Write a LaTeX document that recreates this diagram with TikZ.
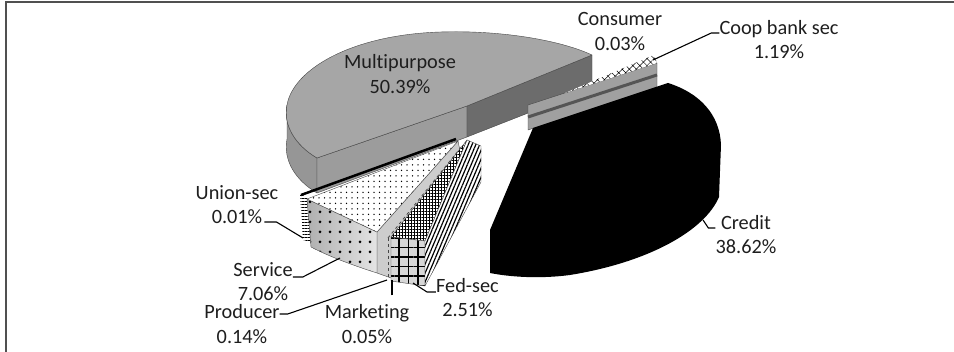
\documentclass[tikz,border=0pt]{standalone}
\usepackage{fontspec}
\setmainfont{Carlito}[Ligatures=NoCommon]
\usetikzlibrary{patterns.meta}
\definecolor{frameColor}{RGB}{80,80,80}
\definecolor{edgeColor}{RGB}{70,70,70}
\definecolor{textColor}{RGB}{30,30,30}
\definecolor{multiTop}{RGB}{166,166,166}
\definecolor{multiFront}{RGB}{156,156,156}
\definecolor{multiSide}{RGB}{150,150,150}
\definecolor{multiDark}{RGB}{108,108,108}
\definecolor{coopSide}{RGB}{160,160,160}
\definecolor{coopStripe}{RGB}{85,85,85}
\definecolor{serviceCut}{RGB}{205,205,205}
\definecolor{serviceSideL}{RGB}{175,175,175}
\definecolor{serviceSideR}{RGB}{228,228,228}
\definecolor{fedSide}{RGB}{215,215,215}
\tikzstyle{chart} = [x = 1pt, y = -1pt]
\tikzstyle{frameLine} = [color=frameColor, line width=2pt]
\tikzstyle{sliceEdge} = [draw=edgeColor, line width=0.4pt, line join=round]
\tikzstyle{pieText} = [font=\fontsize{20.3}{24.4}\selectfont, align=center, inner sep=0pt, text=textColor]
\tikzstyle{leaderLine} = [color=black, line width=1.1pt]
\tikzstyle{sliverLine} = [color=edgeColor, line width=0.8pt, dashed]
\newcommand{\pieLabel}[4]{\node [pieText] (#1) at (#2) {#3\\#4};}

\begin{document}
\begin{tikzpicture}[chart]
  \useasboundingbox (0,0) rectangle (954,352);
  \draw [frameLine] (6,352) -- (6,2) -- (954,2);

  \filldraw [sliceEdge, fill=multiSide] (287,105) .. controls (283,125) and (295,145) .. (317,158) -- (317,193) .. controls (295,180) and (283,160) .. (287,139) -- cycle;
  \filldraw [sliceEdge, fill=multiFront] (317,158) -- (467,106) -- (467,137) -- (317,193) -- cycle;
  \filldraw [sliceEdge, fill=multiDark] (467,106) -- (592,55) -- (592,88) -- (467,137) -- cycle;
  \filldraw [sliceEdge, fill=multiTop] (317,158) -- (467,106) -- (592,55) .. controls (560,40) and (500,30) .. (440,32) .. controls (350,35) and (293,70) .. (287,105) .. controls (283,125) and (295,145) .. (317,158) -- cycle;

  \filldraw [sliceEdge, fill=coopSide] (528,105) -- (657,63) -- (657,87) -- (528,130) -- cycle;
  \draw [color=coopStripe, line width=3pt] (528,117) -- (657,75);
  \path [preaction={fill=white}, pattern={Hatch[angle=45, distance=5pt, line width=0.5pt]}, pattern color=black] (565,93) -- (657,63) -- (654,55) -- cycle;

  \fill [black] (533,128) -- (668,83) .. controls (700,93) and (720,115) .. (721,145) -- (719,197) .. controls (705,230) and (650,262) .. (570,275) .. controls (540,279) and (510,277) .. (490,273) -- (490,230) -- cycle;

  \path [preaction={fill=white}, pattern={Lines[angle=0, distance=3pt, line width=1pt]}] (300,194) -- (307,197) -- (311,242) -- (303,240) -- cycle;
  \draw [color=black, line width=2.5pt] (301,195) -- (456,139);

  \filldraw [sliceEdge, fill=serviceCut] (377,232) -- (458,141) -- (464,170) -- (391,278) -- (377,273) -- cycle;
  \path [preaction={left color=serviceSideL, right color=serviceSideR}, pattern={Dots[distance=10pt, radius=1.5pt]}, sliceEdge] (307,199) -- (377,232) -- (377,273) .. controls (355,266) and (330,257) .. (311,247) -- cycle;
  \path [preaction={fill=white}, pattern={Dots[distance=5.5pt, radius=0.75pt]}, sliceEdge] (307,199) -- (458,141) -- (377,232) -- cycle;
  \draw [sliverLine] (388,238) -- (388,277);
  \draw [sliverLine] (388,238) -- (462,146);

  \path [preaction={fill=white}, pattern={Hatch[angle=0, distance=3pt, line width=0.6pt]}, sliceEdge] (391,237) -- (467,140) -- (425,241) -- cycle;
  \path [preaction={fill=fedSide}, pattern={Hatch[angle=0, distance=9.5pt, line width=1.6pt]}, sliceEdge] (391,237) -- (425,241) -- (425,286) -- (391,281) -- cycle;
  \path [preaction={fill=white}, pattern={Lines[angle=67, distance=3.5pt, line width=1.2pt]}, sliceEdge] (425,241) -- (467,140) -- (481,146) -- (481,182) -- (425,286) -- cycle;

  \pieLabel{mpLabel}{400,74}{Multipurpose}{50.39\%}
  \pieLabel{csLabel}{620,31.5}{Consumer}{0.03\%}
  \pieLabel{cbLabel}{779,39.5}{Coop bank sec}{1.19\%}
  \pieLabel{crLabel}{746,234.5}{Credit}{38.62\%}
  \pieLabel{fsLabel}{467.5,297.5}{Fed-sec}{2.51\%}
  \pieLabel{mkLabel}{367,324}{Marketing}{0.05\%}
  \pieLabel{pdLabel}{242,324}{Producer}{0.14\%}
  \pieLabel{svLabel}{263,281.5}{Service}{7.06\%}
  \pieLabel{usLabel}{237,204.5}{Union-sec}{0.01\%}

  \coordinate (cbTip) at (653,60);
  \coordinate (crTip) at (703,220);
  \coordinate (fsTip) at (413,283);
  \coordinate (mkTip) at (392,280);
  \coordinate (pdTip) at (387,280);
  \coordinate (svTip) at (340,258);
  \coordinate (usTip) at (303,238);

  \draw [leaderLine] ([yshift=6.5pt]cbLabel.west) -- ++(-8,0) -- (cbTip);
  \draw [leaderLine] ([yshift=6.5pt]crLabel.west) -- ++(-7,0) -- (crTip);
  \draw [leaderLine] ([yshift=5.5pt]fsLabel.west) -- ++(-9,0) -- (fsTip);
  \draw [leaderLine, shorten <=9pt] (mkTip |- mkLabel.north) -- (mkTip);
  \draw [leaderLine] ([yshift=10pt]pdLabel.east) -- ++(8,0) -- (pdTip);
  \draw [leaderLine] ([yshift=4.5pt]svLabel.east) -- ++(10,0) -- (svTip);
  \draw [leaderLine] ([xshift=-14pt,yshift=-17.5pt]usLabel.east) -- ++(12,0) -- (usTip);
\end{tikzpicture}
\end{document}
